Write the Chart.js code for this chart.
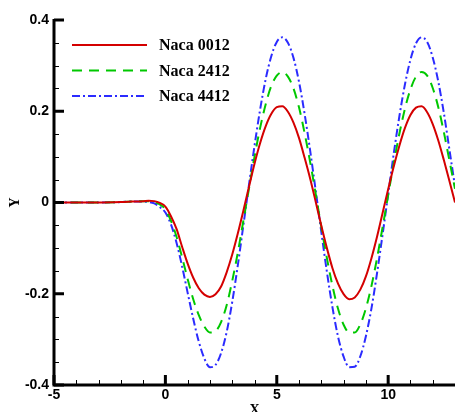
<!DOCTYPE html>
<html><head><meta charset="utf-8">
<script src="https://cdn.jsdelivr.net/npm/chart.js@4/dist/chart.umd.min.js"></script>
<style>html,body{margin:0;padding:0;background:#fff;overflow:hidden}#wrap{width:455px;height:412px;position:relative}</style>
</head><body><div id="wrap"><canvas id="c" width="455" height="412"></canvas></div>
<script>
const xValues = [-5,-4,-3,-2,-1.5,-1,-0.75,-0.5,-0.25,0,0.25,0.5,0.75,1,1.25,1.5,1.75,2,2.25,2.5,2.75,3,3.25,3.5,3.75,4,4.25,4.5,4.75,5,5.25,5.5,5.75,6,6.25,6.5,6.75,7,7.25,7.5,7.75,8,8.25,8.5,8.75,9,9.25,9.5,9.75,10,10.25,10.5,10.75,11,11.25,11.5,11.75,12,12.25,12.5,12.75,13];
const naca0012 = [0,0,0,0.001,0.002,0.003,0.004,0.003,-0.001,-0.009,-0.03,-0.058,-0.097,-0.134,-0.165,-0.188,-0.202,-0.207,-0.201,-0.184,-0.153,-0.114,-0.068,-0.018,0.034,0.085,0.13,0.167,0.194,0.209,0.211,0.199,0.175,0.141,0.098,0.052,0.001,-0.051,-0.1,-0.144,-0.178,-0.201,-0.212,-0.208,-0.191,-0.162,-0.122,-0.075,-0.023,0.029,0.079,0.124,0.163,0.192,0.208,0.211,0.198,0.172,0.136,0.093,0.047,0.0];
const naca2412 = [0,0,0,0.001,0.002,0.003,0.003,0.001,-0.004,-0.015,-0.04,-0.075,-0.12,-0.168,-0.212,-0.247,-0.272,-0.285,-0.282,-0.262,-0.225,-0.172,-0.11,-0.04,0.03,0.1,0.163,0.215,0.255,0.278,0.286,0.276,0.25,0.208,0.152,0.088,0.018,-0.054,-0.122,-0.183,-0.233,-0.268,-0.285,-0.285,-0.267,-0.232,-0.183,-0.122,-0.054,0.016,0.086,0.15,0.205,0.248,0.276,0.286,0.278,0.251,0.209,0.154,0.092,0.03];
const naca4412 = [0,0,0,0.001,0.002,0.002,0.001,-0.002,-0.01,-0.022,-0.048,-0.088,-0.14,-0.198,-0.255,-0.305,-0.342,-0.361,-0.356,-0.33,-0.284,-0.218,-0.138,-0.05,0.038,0.124,0.203,0.27,0.32,0.352,0.362,0.35,0.317,0.264,0.194,0.113,0.025,-0.065,-0.152,-0.23,-0.294,-0.338,-0.361,-0.36,-0.337,-0.293,-0.232,-0.155,-0.07,0.018,0.107,0.188,0.258,0.313,0.349,0.362,0.352,0.318,0.265,0.196,0.116,0.035];
const seriesNames = ['Naca 0012','Naca 2412','Naca 4412'];
const xTickValues = [-5,0,5,10];
const xTickLabels = ['-5','0','5','10'];
const yTickValues = [-0.4,-0.2,0,0.2,0.4];
const yTickLabels = ['-0.4','-0.2','0','0.2','0.4'];
const xTitle = 'X';
const yTitle = 'Y';

const styles = [
  {color:'#d40000', dash:[]},
  {color:'#00c800', dash:[10,7]},
  {color:'#2b2bff', dash:[8,3,2,3]}
];
const seriesData = [naca0012, naca2412, naca4412];

const axesPlugin = {
  id:'axesPlugin',
  afterDraw(chart){
    const ctx = chart.ctx;
    const xs = chart.scales.x, ys = chart.scales.y;
    const ca = chart.chartArea;
    ctx.save();
    ctx.strokeStyle = '#000';
    ctx.fillStyle = '#000';
    // axis lines
    ctx.lineWidth = 3;
    ctx.beginPath();
    ctx.moveTo(ca.left, ca.top - 1);
    ctx.lineTo(ca.left, ca.bottom);
    ctx.lineTo(ca.right + 2, ca.bottom);
    ctx.stroke();
    // minor ticks
    ctx.lineWidth = 1;
    ctx.beginPath();
    for (let v = -5; v <= 13.001; v += 1) {
      const p = Math.round(xs.getPixelForValue(v)) + 0.5;
      ctx.moveTo(p, ca.bottom); ctx.lineTo(p, ca.bottom - 5);
    }
    for (let k = -8; k <= 8; k++) {
      const p = Math.round(ys.getPixelForValue(k * 0.05)) + 0.5;
      ctx.moveTo(ca.left, p); ctx.lineTo(ca.left + 5, p);
    }
    ctx.stroke();
    // major ticks
    ctx.lineWidth = 3;
    ctx.beginPath();
    xTickValues.forEach(v => {
      const p = xs.getPixelForValue(v);
      ctx.moveTo(p, ca.bottom); ctx.lineTo(p, ca.bottom - 10);
    });
    yTickValues.forEach(v => {
      const p = ys.getPixelForValue(v);
      ctx.moveTo(ca.left, p); ctx.lineTo(ca.left + 10, p);
    });
    ctx.stroke();
    // tick labels
    ctx.font = 'bold 14px "Liberation Sans", Arial, sans-serif';
    ctx.textAlign = 'center';
    ctx.textBaseline = 'top';
    xTickValues.forEach((v, i) => {
      ctx.fillText(xTickLabels[i], xs.getPixelForValue(v), ca.bottom + 3);
    });
    ctx.textAlign = 'right';
    ctx.textBaseline = 'middle';
    yTickValues.forEach((v, i) => {
      ctx.fillText(yTickLabels[i], ca.left - 5, ys.getPixelForValue(v));
    });
    // axis titles
    ctx.font = 'bold 14px "Liberation Serif", "Times New Roman", serif';
    ctx.textAlign = 'center';
    ctx.textBaseline = 'top';
    ctx.fillText(xTitle, (xs.getPixelForValue(4)), ca.bottom + 18);
    ctx.save();
    ctx.translate(15, ys.getPixelForValue(0));
    ctx.rotate(-Math.PI / 2);
    ctx.textBaseline = 'middle';
    ctx.fillText(yTitle, 0, 0);
    ctx.restore();
    // legend
    chart.data.datasets.forEach((ds, i) => {
      const y = 45 + i * 25.5;
      ctx.strokeStyle = ds.borderColor;
      ctx.lineWidth = ds.borderWidth;
      ctx.setLineDash(ds.borderDash || []);
      ctx.beginPath();
      ctx.moveTo(72, y); ctx.lineTo(147, y);
      ctx.stroke();
      ctx.setLineDash([]);
      ctx.fillStyle = '#000';
      ctx.font = 'bold 16px "Liberation Serif", "Times New Roman", serif';
      ctx.textAlign = 'left';
      ctx.textBaseline = 'middle';
      ctx.fillText(ds.label, 159, y + 1);
    });
    ctx.restore();
  }
};

new Chart(document.getElementById('c'), {
  type: 'line',
  data: {
    datasets: seriesData.map((arr, i) => ({
      label: seriesNames[i],
      data: xValues.map((x, j) => ({x: x, y: arr[j]})),
      borderColor: styles[i].color,
      borderDash: styles[i].dash,
      borderWidth: 2,
      pointRadius: 0,
      fill: false,
      cubicInterpolationMode: 'monotone'
    }))
  },
  options: {
    responsive: false,
    animation: false,
    devicePixelRatio: 1,
    layout: {padding: {left: 54, right: 0, top: 20, bottom: 27}},
    scales: {
      x: {type: 'linear', min: -5, max: 13, display: false},
      y: {type: 'linear', min: -0.4, max: 0.4, display: false}
    },
    plugins: {legend: {display: false}, tooltip: {enabled: false}}
  },
  plugins: [axesPlugin]
});
</script>
</body></html>
